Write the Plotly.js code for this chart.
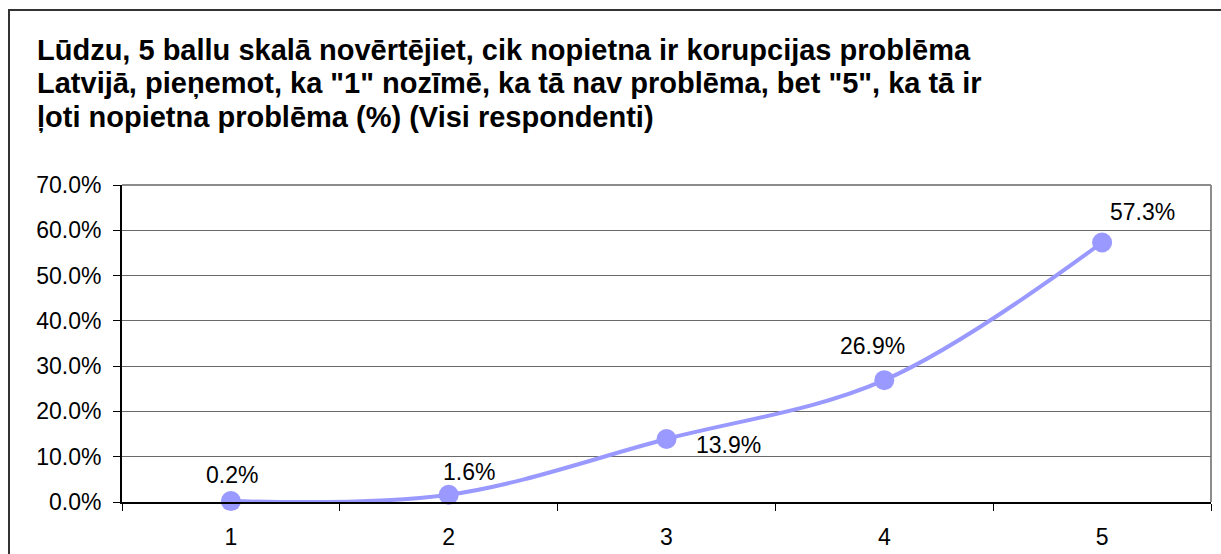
<!DOCTYPE html>
<html>
<head>
<meta charset="utf-8">
<script src="https://cdn.plot.ly/plotly-3.0.1.min.js"></script>
<style>
  html, body { margin: 0; padding: 0; background: #fff; }
  #wrap { position: relative; width: 1221px; height: 554px; overflow: hidden; }
  #chart { position: absolute; left: 0; top: 0; width: 1221px; height: 554px; }
  #frame { position: absolute; left: 8px; top: 9px; width: 1240px; height: 600px;
           border-left: 2px solid #333; border-top: 2px solid #333; pointer-events: none; }
</style>
</head>
<body>
<div id="wrap">
  <div id="chart"></div>
  <div id="frame"></div>
</div>
<script>
// Data
const categories = ["1", "2", "3", "4", "5"];
const values = [0.002, 0.016, 0.139, 0.269, 0.573];
const valueLabels = ["0.2%", "1.6%", "13.9%", "26.9%", "57.3%"];
const yTickVals = [0, 0.1, 0.2, 0.3, 0.4, 0.5, 0.6, 0.7];
const titleLines = [
  'Lūdzu, 5 ballu skalā novērtējiet, cik nopietna ir korupcijas problēma',
  'Latvijā, pieņemot, ka "1" nozīmē, ka tā nav problēma, bet "5", ka tā ir',
  'ļoti nopietna problēma (%) (Visi respondenti)'
];

// Style / placement (pixels)
const labelShift = [[1, 26], [20, 23], [62, -6], [-12, 34], [40, 31]];
const M = { l: 122, r: 10, t: 185, b: 52 };
const W = 1221, H = 554;
const plotW = W - M.l - M.r, plotH = H - M.t - M.b;
const titleX = 35, titleLineY = [50, 83, 117];

const font = "Arial";

const trace = {
  type: "scatter",
  mode: "lines+markers",
  x: categories,
  y: values,
  line: { shape: "spline", smoothing: 1, color: "#9999FF", width: 4 },
  marker: { size: 20, color: "#9999FF" },
  hoverinfo: "none",
  cliponaxis: false
};

const annotations = categories.map((c, i) => ({
  x: i, y: values[i], xref: "x", yref: "y",
  text: valueLabels[i], showarrow: false,
  xshift: labelShift[i][0], yshift: labelShift[i][1],
  font: { family: font, size: 23, color: "#000" }
}));

titleLines.forEach((t, i) => {
  annotations.push({
    text: "<b>" + t + "</b>", showarrow: false,
    xref: "paper", yref: "paper",
    x: (titleX - M.l) / plotW, xanchor: "left",
    y: (H - M.b - titleLineY[i]) / plotH, yanchor: "middle",
    font: { family: font, size: 29, color: "#000" }
  });
});

const layout = {
  width: W, height: H,
  margin: { l: M.l, r: M.r, t: M.t, b: M.b, pad: 0 },
  paper_bgcolor: "#fff", plot_bgcolor: "#fff",
  showlegend: false,
  xaxis: {
    type: "category",
    range: [-0.5, categories.length - 0.5],
    tickson: "boundaries",
    ticks: "outside", ticklen: 7, tickcolor: "#000", tickwidth: 1,
    showline: true, linecolor: "#000", linewidth: 2,
    showgrid: false, zeroline: false,
    ticklabelstandoff: 13,
    tickfont: { family: font, size: 23, color: "#000" },
    fixedrange: true
  },
  yaxis: {
    range: [0, 0.7],
    tickvals: yTickVals,
    tickformat: ".1%",
    ticks: "outside", ticklen: 7, tickcolor: "#000", tickwidth: 1,
    showline: true, linecolor: "#000", linewidth: 2,
    showgrid: true, gridcolor: "#6a6a6a", gridwidth: 1,
    zeroline: false,
    ticklabelstandoff: 7,
    tickfont: { family: font, size: 23, color: "#000" },
    fixedrange: true
  },
  shapes: [
    { type: "line", xref: "paper", yref: "paper", x0: 0, x1: 1, y0: 1, y1: 1,
      line: { color: "#8c8c8c", width: 2 }, layer: "below" },
    { type: "line", xref: "paper", yref: "paper", x0: 1, x1: 1, y0: 0, y1: 1,
      line: { color: "#8c8c8c", width: 2 }, layer: "below" }
  ],
  annotations: annotations
};

Plotly.newPlot("chart", [trace], layout, { displayModeBar: false, staticPlot: true });
</script>
</body>
</html>
